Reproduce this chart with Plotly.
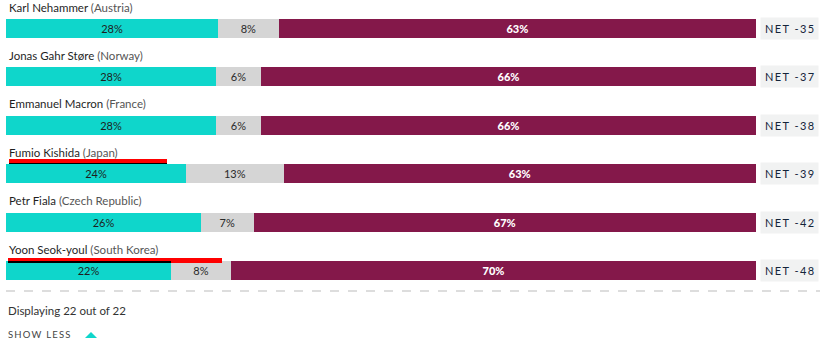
import plotly.graph_objects as go

W, H = 820, 348

leaders = ["Karl Nehammer", "Jonas Gahr Støre", "Emmanuel Macron", "Fumio Kishida", "Petr Fiala", "Yoon Seok-youl"]
countries = ["Austria", "Norway", "France", "Japan", "Czech Republic", "South Korea"]
approve = [28, 28, 28, 24, 26, 22]
unsure = [8, 6, 6, 13, 7, 8]
disapprove = [63, 66, 66, 63, 67, 70]
net = [-35, -37, -38, -39, -42, -48]

TEAL = "#0fd6cb"
GRAY = "#d5d5d5"
MAROON = "#84184a"

# row geometry (pixel space; y axis maps 1:1 to pixels)
ROW0 = 28.5
STEP = 48.4
BAR_H = 19
centers = [ROW0 + i * STEP for i in range(len(leaders))]

totals = [a + u + d for a, u, d in zip(approve, unsure, disapprove)]
def norm(vals):
    return [v / t * 100 for v, t in zip(vals, totals)]

fig = go.Figure()
series = [
    (approve, TEAL, dict(color="#1e1e1e", size=11, family="Lato")),
    (unsure, GRAY, dict(color="#2a2a2a", size=11, family="Lato")),
    (disapprove, MAROON, dict(color="#ffffff", size=11, family="Lato Black, Lato")),
]
for vals, col, fnt in series:
    fig.add_trace(go.Bar(
        y=centers, x=norm(vals), orientation="h", width=BAR_H,
        marker=dict(color=col, line=dict(width=0)),
        text=[f"<b>{v}%</b>" if col == MAROON else f"{v}%" for v in vals],
        textposition="inside", insidetextanchor="middle",
        textfont=fnt, constraintext="none", hoverinfo="skip",
    ))

def px(x):
    return x / W

annotations = []
for name, ctry, c, n in zip(leaders, countries, centers, net):
    annotations.append(dict(
        xref="paper", yref="y", x=px(7), y=c - 21.5, xanchor="left", yanchor="middle",
        text=f"<span style='color:#1f1f1f'>{name}</span> <span style='color:#555555'>({ctry})</span>",
        showarrow=False, font=dict(family="Lato", size=11.5),
    ))
    label = "\u2009".join(list(f"NET {n}"))
    annotations.append(dict(
        xref="paper", yref="y", x=px(789.5), y=c, xanchor="center", yanchor="middle",
        text=label, showarrow=False, width=55, height=BAR_H, bgcolor="#f1f2f2",
        font=dict(family="Lato", size=11, color="#14243a"),
    ))

annotations.append(dict(
    xref="paper", yref="y", x=px(6), y=310, xanchor="left", yanchor="middle",
    text="Displaying 22 out of 22", showarrow=False,
    font=dict(family="Lato", size=11.5, color="#333333"),
))
annotations.append(dict(
    xref="paper", yref="y", x=px(6), y=334, xanchor="left", yanchor="middle",
    text="\u2009".join(list("SHOW LESS")), showarrow=False,
    font=dict(family="Lato", size=9.5, color="#444444"),
))

shapes = [
    dict(type="line", xref="paper", yref="y", x0=px(6), x1=1, y0=291, y1=291,
         line=dict(color="#bbbbbb", width=1, dash="dash")),
    dict(type="path", xref="paper", yref="y",
         path=f"M {px(85)} 338 L {px(97)} 338 L {px(91)} 332 Z",
         fillcolor=TEAL, line=dict(width=0)),
    # red underline marks
    dict(type="rect", xref="paper", yref="y", x0=px(9), x1=px(167), y0=159, y1=163,
         fillcolor="#ff0000", line=dict(width=0), layer="above"),
    dict(type="rect", xref="paper", yref="y", x0=px(9), x1=px(167), y0=163, y1=164,
         fillcolor="#000000", line=dict(width=0), layer="above"),
    dict(type="rect", xref="paper", yref="y", x0=px(8), x1=px(222), y0=258, y1=263,
         fillcolor="#ff0000", line=dict(width=0), layer="above"),
    dict(type="rect", xref="paper", yref="y", x0=px(8), x1=px(171), y0=261, y1=263,
         fillcolor="#000000", line=dict(width=0), layer="above"),
]

fig.update_layout(
    width=W, height=H, margin=dict(l=0, r=0, t=0, b=0),
    paper_bgcolor="white", plot_bgcolor="white",
    barmode="stack", showlegend=False,
    xaxis=dict(domain=[px(6), px(756)], range=[0, 100], visible=False, fixedrange=True),
    yaxis=dict(range=[H, 0], visible=False, fixedrange=True),
    annotations=annotations, shapes=shapes,
)

fig.write_html("out.html", config={"displayModeBar": False})
